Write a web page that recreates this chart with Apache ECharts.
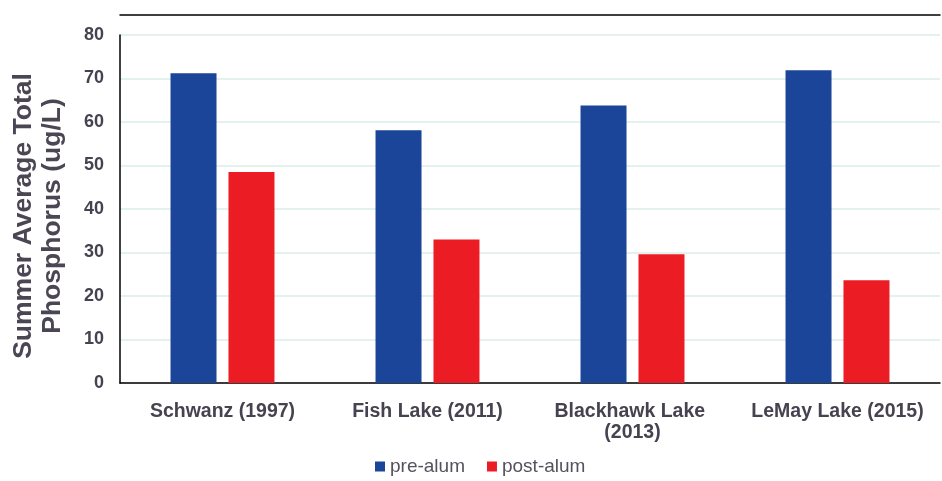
<!DOCTYPE html>
<html>
<head>
<meta charset="utf-8">
<script src="https://cdn.jsdelivr.net/npm/echarts@6/dist/echarts.min.js"></script>
<style>
  html, body { margin: 0; padding: 0; background: #fff; }
  #chart { width: 942px; height: 481px; }
</style>
</head>
<body>
<div id="chart"></div>
<script>
// lakes and summer average total phosphorus (ug/L)
const lakes = ['Schwanz (1997)', 'Fish Lake (2011)', 'Blackhawk Lake (2013)', 'LeMay Lake (2015)']
const preAlum = [71.2, 58.1, 63.8, 71.9]
const postAlum = [48.5, 33.0, 29.6, 23.6]
const yTicks = { min: 0, max: 80, interval: 10 }

const textColor = '#46424f'
const chart = echarts.init(document.getElementById('chart'))

chart.setOption({
  animation: false,
  textStyle: { fontFamily: 'Liberation Sans, Arial, sans-serif' },
  grid: { left: 120, right: 2, top: 35, bottom: 98, outerBoundsMode: 'none', containLabel: false },
  legend: {
    bottom: 0,
    left: 370,
    itemWidth: 10,
    itemHeight: 10,
    itemGap: 22,
    icon: 'rect',
    textStyle: { fontSize: 19, color: '#55515e' },
    data: ['pre-alum', 'post-alum']
  },
  xAxis: [
    {
      type: 'category',
      data: lakes,
      axisLine: { lineStyle: { color: '#000', width: 1.5 } },
      axisTick: { show: false },
      axisLabel: {
        interval: 0,
        margin: 18,
        fontSize: 19.5,
        fontWeight: 'bold',
        color: textColor,
        width: 190,
        overflow: 'break',
        lineHeight: 21
      }
    },
    {
      // top frame line
      type: 'category',
      data: lakes,
      position: 'top',
      offset: 20,
      axisLine: { lineStyle: { color: '#000', width: 1.5 } },
      axisTick: { show: false },
      axisLabel: { show: false }
    }
  ],
  yAxis: {
    type: 'value',
    min: yTicks.min,
    max: yTicks.max,
    interval: yTicks.interval,
    name: 'Summer Average Total\nPhosphorus (ug/L)',
    nameLocation: 'middle',
    nameGap: 53,
    nameTextStyle: {
      fontSize: 26.5,
      fontWeight: 'bold',
      color: '#4a4653',
      lineHeight: 29,
      padding: [0, 14, 0, 0]
    },
    axisLine: { show: true, lineStyle: { color: '#000', width: 1.5 } },
    axisTick: { show: false },
    axisLabel: { margin: 16, fontSize: 18, fontWeight: 'bold', color: textColor },
    splitLine: { lineStyle: { color: '#e4f2ec', width: 2 } }
  },
  series: [
    {
      name: 'pre-alum',
      type: 'bar',
      data: preAlum,
      barWidth: 46,
      barGap: '26%',
      itemStyle: { color: '#1b4599' }
    },
    {
      name: 'post-alum',
      type: 'bar',
      data: postAlum,
      barWidth: 46,
      itemStyle: { color: '#ec1c24' }
    }
  ]
})
</script>
</body>
</html>
